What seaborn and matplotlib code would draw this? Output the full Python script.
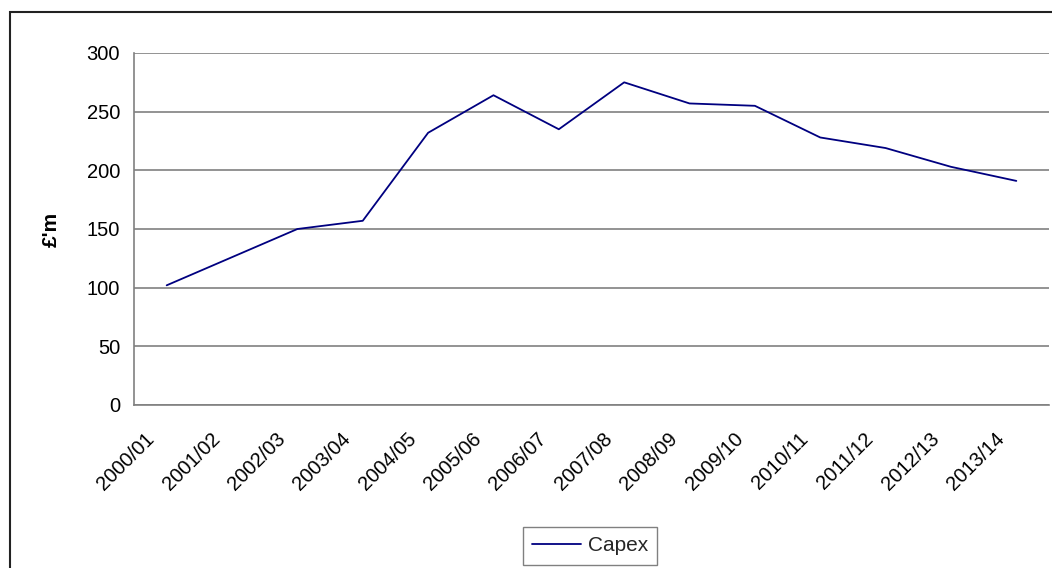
import numpy as np
import pandas as pd
import seaborn as sns
import matplotlib.pyplot as plt
from matplotlib.patches import Rectangle
from matplotlib.lines import Line2D
from matplotlib.transforms import ScaledTranslation

years = ["2000/01", "2001/02", "2002/03", "2003/04", "2004/05", "2005/06", "2006/07",
         "2007/08", "2008/09", "2009/10", "2010/11", "2011/12", "2012/13", "2013/14"]
capex = [102, 126, 150, 157, 232, 264, 235, 275, 257, 255, 228, 219, 203, 191]
y_ticks = [0, 50, 100, 150, 200, 250, 300]

sns.set_style("white")
plt.rcParams["font.family"] = ["Liberation Sans", "DejaVu Sans"]
GRID = "#808080"
LINE = "#000080"
FS = 14.5

df = pd.DataFrame({"Year": years, "Capex": capex})

fig = plt.figure(figsize=(10.52, 5.68), dpi=100)
ax = fig.add_axes([134 / 1052, 1 - 405 / 568, (1049 - 134) / 1052, (405 - 53) / 568])

sns.lineplot(data=df, x="Year", y="Capex", color=LINE, lw=1.3, ax=ax,
             sort=False, legend=False)

ax.set_xlim(-0.5, len(years) - 0.5)
ax.set_ylim(0, 300)
ax.set_yticks(y_ticks)
ax.set_yticklabels([str(v) for v in y_ticks], fontsize=FS, color="black")
ax.set_xticks(range(len(years)))
ax.set_xticks(np.arange(-0.5, len(years)), minor=True)
ax.tick_params(axis="x", which="major", length=0, pad=22)
ax.tick_params(axis="x", which="minor", length=5, width=1, color=GRID, direction="out")
ax.tick_params(axis="y", which="major", length=5, width=1, color=GRID, direction="out", pad=5)
ax.set_xticklabels(years, rotation=45, ha="right", va="center", rotation_mode="anchor",
                   fontsize=FS, color="black")
ax.grid(True, axis="y", color=GRID, lw=1.2)
for s in ["top", "right"]:
    ax.spines[s].set_visible(False)
for s in ["left", "bottom"]:
    ax.spines[s].set_color(GRID)
    ax.spines[s].set_linewidth(1.2)

ax.set_xlabel(None)
ax.set_ylabel("£'m", fontsize=15, fontweight="bold", color="black")
ax.yaxis.set_label_coords((61 - 134) / 915, 0.5)

handle = Line2D([0], [0], color=LINE, lw=1.3)
fig.legend([handle], ["Capex"], loc="upper left", bbox_to_anchor=(523 / 1052, 1 - 527 / 568),
           frameon=True, fancybox=False, edgecolor=GRID, fontsize=15,
           handlelength=2.35, handletextpad=0.3, borderpad=0.45, borderaxespad=0,
           framealpha=1)

fig.patches.append(Rectangle((10 / 1052, -0.05), 1.1, 1 - 12 / 568 + 0.05,
                             transform=fig.transFigure, fill=False,
                             edgecolor="#222222", lw=1.5, clip_on=False))

# shift the slanted labels left so they sit like Excel's
shift = ScaledTranslation(-15 / 100, 0, fig.dpi_scale_trans)
for lab in ax.get_xticklabels():
    lab.set_transform(lab.get_transform() + shift)

fig.savefig("out.png", dpi=100)
